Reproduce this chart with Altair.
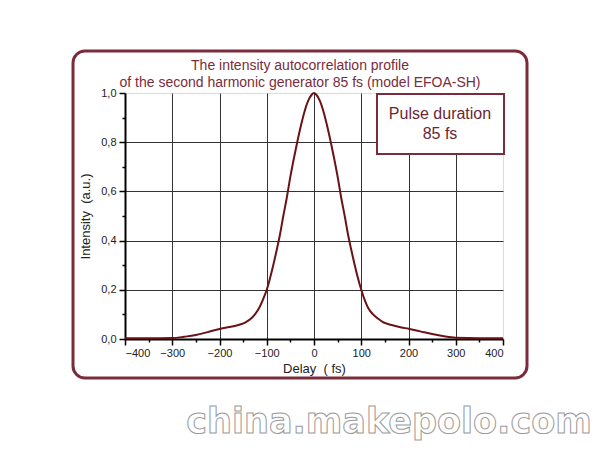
import altair as alt
import pandas as pd

# ---- data ----
delay = [-400, -350, -300, -275, -250, -225, -200, -185, -170, -155, -145, -135, -125, -115, -108,
         -100, -92, -85, -78, -72, -65, -58, -50, -42, -35, -28, -20, -12, -5, 0,
         5, 12, 20, 28, 35, 42, 50, 58, 65, 72, 78, 85, 92, 100,
         108, 115, 125, 135, 145, 155, 170, 185, 200, 225, 250, 275, 300, 350, 400]
intensity = [0.003, 0.003, 0.004, 0.009, 0.016, 0.028, 0.041, 0.047, 0.052, 0.060, 0.068, 0.080, 0.100, 0.130, 0.160,
             0.200, 0.255, 0.310, 0.370, 0.425, 0.500, 0.570, 0.660, 0.740, 0.805, 0.865, 0.925, 0.970, 0.993, 1.000,
             0.993, 0.970, 0.925, 0.865, 0.805, 0.740, 0.660, 0.570, 0.500, 0.425, 0.370, 0.310, 0.255, 0.200,
             0.155, 0.125, 0.100, 0.083, 0.070, 0.062, 0.054, 0.047, 0.042, 0.031, 0.020, 0.011, 0.005, 0.003, 0.003]

x_ticks = list(range(-400, 401, 50))
y_ticks = [0.0, 0.1, 0.2, 0.3, 0.4, 0.5, 0.6, 0.7, 0.8, 0.9, 1.0]
title_lines = ["The intensity autocorrelation profile",
               "of the second harmonic generator 85 fs (model EFOA-SH)"]
box_text = "Pulse duration\n85 fs"
watermark = "china.makepolo.com"
x_title = "Delay\u00a0\u00a0( fs)"
y_title = "Intensity\u00a0\u00a0(a.u.)"

MAROON = "#7a2c3c"
CURVE = "#6a1216"
FONT = "Arial"

df = pd.DataFrame({"delay": delay, "intensity": intensity})
one = pd.DataFrame({"k": [0]})

x_axis = alt.Axis(
    values=x_ticks,
    labelExpr="datum.value % 100 == 0 ? datum.label : ''",
    format="d",
    domainColor="black", domainWidth=2,
    tickColor="black", tickWidth=1.5,
    tickSize={"condition": {"test": "datum.value % 100 == 0", "value": 6}, "value": 3},
    grid=True, gridColor="#333333", gridWidth=1,
    gridOpacity={"condition": {"test": "datum.value % 100 == 0 && abs(datum.value) < 350", "value": 1}, "value": 0},
    labelFont=FONT, labelFontSize=11, labelColor="#222222", labelPadding=2,
    titleFont=FONT, titleFontSize=13, titleFontWeight="normal", titleColor="#222222", titlePadding=4,
)
y_axis = alt.Axis(
    values=y_ticks,
    labelExpr="round(datum.value*10) % 2 == 0 ? replace(format(datum.value, '.1f'), '.', ',') : ''",
    domainColor="black", domainWidth=2,
    tickColor="black", tickWidth=1.5,
    tickSize={"condition": {"test": "round(datum.value*10) % 2 == 0", "value": 6}, "value": 3},
    grid=True, gridColor="#333333", gridWidth=1,
    gridOpacity={"condition": {"test": "round(datum.value*10) % 2 == 0 && datum.value > 0.05 && datum.value < 0.95", "value": 1}, "value": 0},
    labelFont=FONT, labelFontSize=11, labelColor="#222222", labelPadding=3,
    titleFont=FONT, titleFontSize=13, titleFontWeight="normal", titleColor="#222222", titlePadding=8,
)

line = alt.Chart(df).mark_line(color=CURVE, strokeWidth=2, interpolate="monotone").encode(
    x=alt.X("delay:Q", scale=alt.Scale(domain=[-400, 400], nice=False, zero=False), axis=x_axis, title=x_title),
    y=alt.Y("intensity:Q", scale=alt.Scale(domain=[0, 1], nice=False), axis=y_axis, title=y_title),
)

frame = alt.Chart(one).mark_rect(
    fill="white", fillOpacity=0, stroke=MAROON, strokeWidth=3, cornerRadius=12
).encode(x=alt.value(-52), x2=alt.value(402), y=alt.value(-42), y2=alt.value(285))

box = alt.Chart(one).mark_rect(fill="white", stroke=MAROON, strokeWidth=2).encode(
    x=alt.value(252), x2=alt.value(379), y=alt.value(1), y2=alt.value(61)
)
box_label = alt.Chart(one).mark_text(
    text=box_text, lineBreak="\n", lineHeight=20, font=FONT, fontSize=16, color="#6b2636",
    align="center", baseline="alphabetic"
).encode(x=alt.value(315), y=alt.value(26))

wm = alt.Chart(one).mark_text(
    text=watermark, font="DejaVu Sans", fontWeight="bold", fontSize=35,
    fill="white", stroke="#9a9a9a", strokeWidth=1, align="center", baseline="alphabetic"
).encode(x=alt.value(264), y=alt.value(340))

chart = alt.layer(frame, line, box, box_label, wm).properties(
    width=378, height=246,
    title=alt.TitleParams(text=title_lines, font=FONT, fontSize=14, fontWeight="normal",
                          color=MAROON, anchor="middle", dx=-14, offset=-40, lineHeight=17,
                          frame="group"),
    autosize=alt.AutoSizeParams(type="none"),
    padding={"left": 117, "top": 85, "right": 89, "bottom": 103},
).configure_view(stroke=None).configure(background="white")

chart.save("out.html", embed_options={"renderer": "svg", "actions": False})
